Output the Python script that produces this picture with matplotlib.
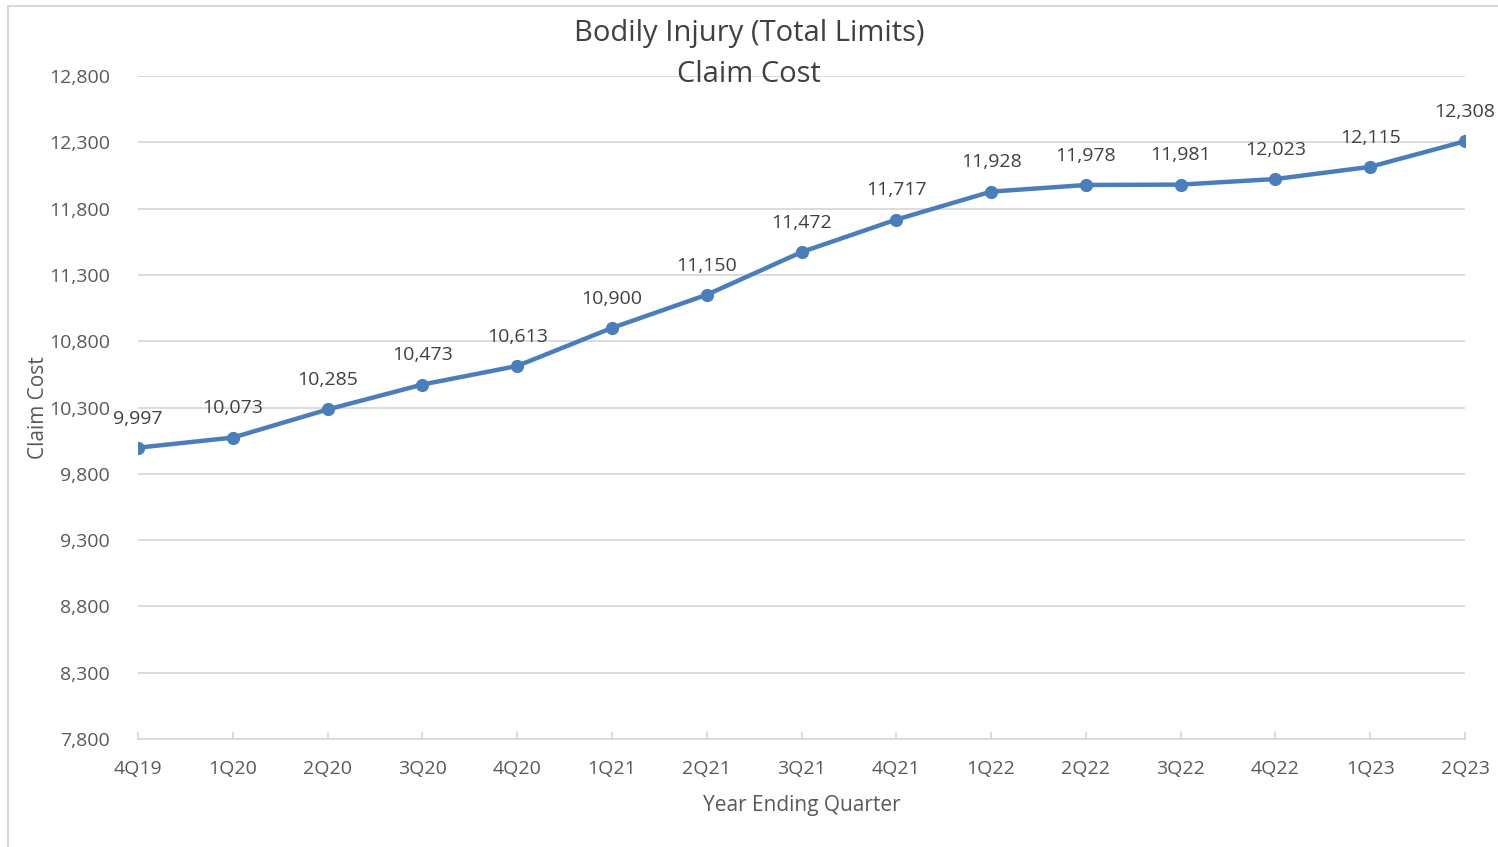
import matplotlib.pyplot as plt
from matplotlib.patches import Rectangle

quarters = ["4Q19", "1Q20", "2Q20", "3Q20", "4Q20", "1Q21", "2Q21", "3Q21",
            "4Q21", "1Q22", "2Q22", "3Q22", "4Q22", "1Q23", "2Q23"]
claimCost = [9997, 10073, 10285, 10473, 10613, 10900, 11150, 11472,
             11717, 11928, 11978, 11981, 12023, 12115, 12308]
yTicks = [7800, 8300, 8800, 9300, 9800, 10300, 10800, 11300, 11800, 12300, 12800]

plt.rcParams['font.family'] = ['Open Sans', 'DejaVu Sans']

fig = plt.figure(figsize=(14.98, 8.47), dpi=100)
ax = fig.add_axes([138/1498, 1-739/847, (1465-138)/1498, (739-76)/847])

# chart border
fig.patches.append(Rectangle((8/1498, -0.01), 1.02, 1-6/847+0.01, transform=fig.transFigure,
                             fill=False, edgecolor="#d9d9d9", linewidth=1.5))

x = list(range(len(quarters)))
ax.plot(x, claimCost, "-o", color="#4a7ebb", linewidth=3.2, markersize=8.5)

for xi, v in zip(x, claimCost):
    ax.annotate(f"{v:,}", (xi, v), xytext=(0, 21), textcoords="offset points",
                ha="center", va="center", fontsize=14, color="#404040")

ax.set_xlim(0, len(quarters) - 1)
ax.set_ylim(7800, 12800)
ax.set_yticks(yTicks)
ax.set_yticklabels([f"{t:,}" for t in yTicks])
ax.set_xticks(x)
ax.set_xticklabels(quarters)
ax.grid(axis="y", color="#d9d9d9", linewidth=1.3)
ax.set_axisbelow(True)
for s in ["top", "right", "left"]:
    ax.spines[s].set_visible(False)
ax.spines["bottom"].set_color("#d9d9d9")
ax.spines["bottom"].set_linewidth(1.3)
ax.tick_params(axis="y", length=0, pad=20, labelsize=14, labelcolor="#595959")
ax.tick_params(axis="x", direction="in", length=5, color="#d9d9d9", width=1.3,
               pad=15, labelsize=14, labelcolor="#595959")

ax.set_xlabel("Year Ending Quarter", fontsize=15, color="#595959", labelpad=12)
ax.set_ylabel("Claim Cost", fontsize=15, color="#595959", labelpad=0)
fig.text(0.5, 1-34/847, "Bodily Injury (Total Limits)", ha="center", va="center",
         fontsize=21, color="#404040")
fig.text(0.5, 1-75/847, "Claim Cost", ha="center", va="center",
         fontsize=21, color="#404040")

plt.savefig("out.png")
